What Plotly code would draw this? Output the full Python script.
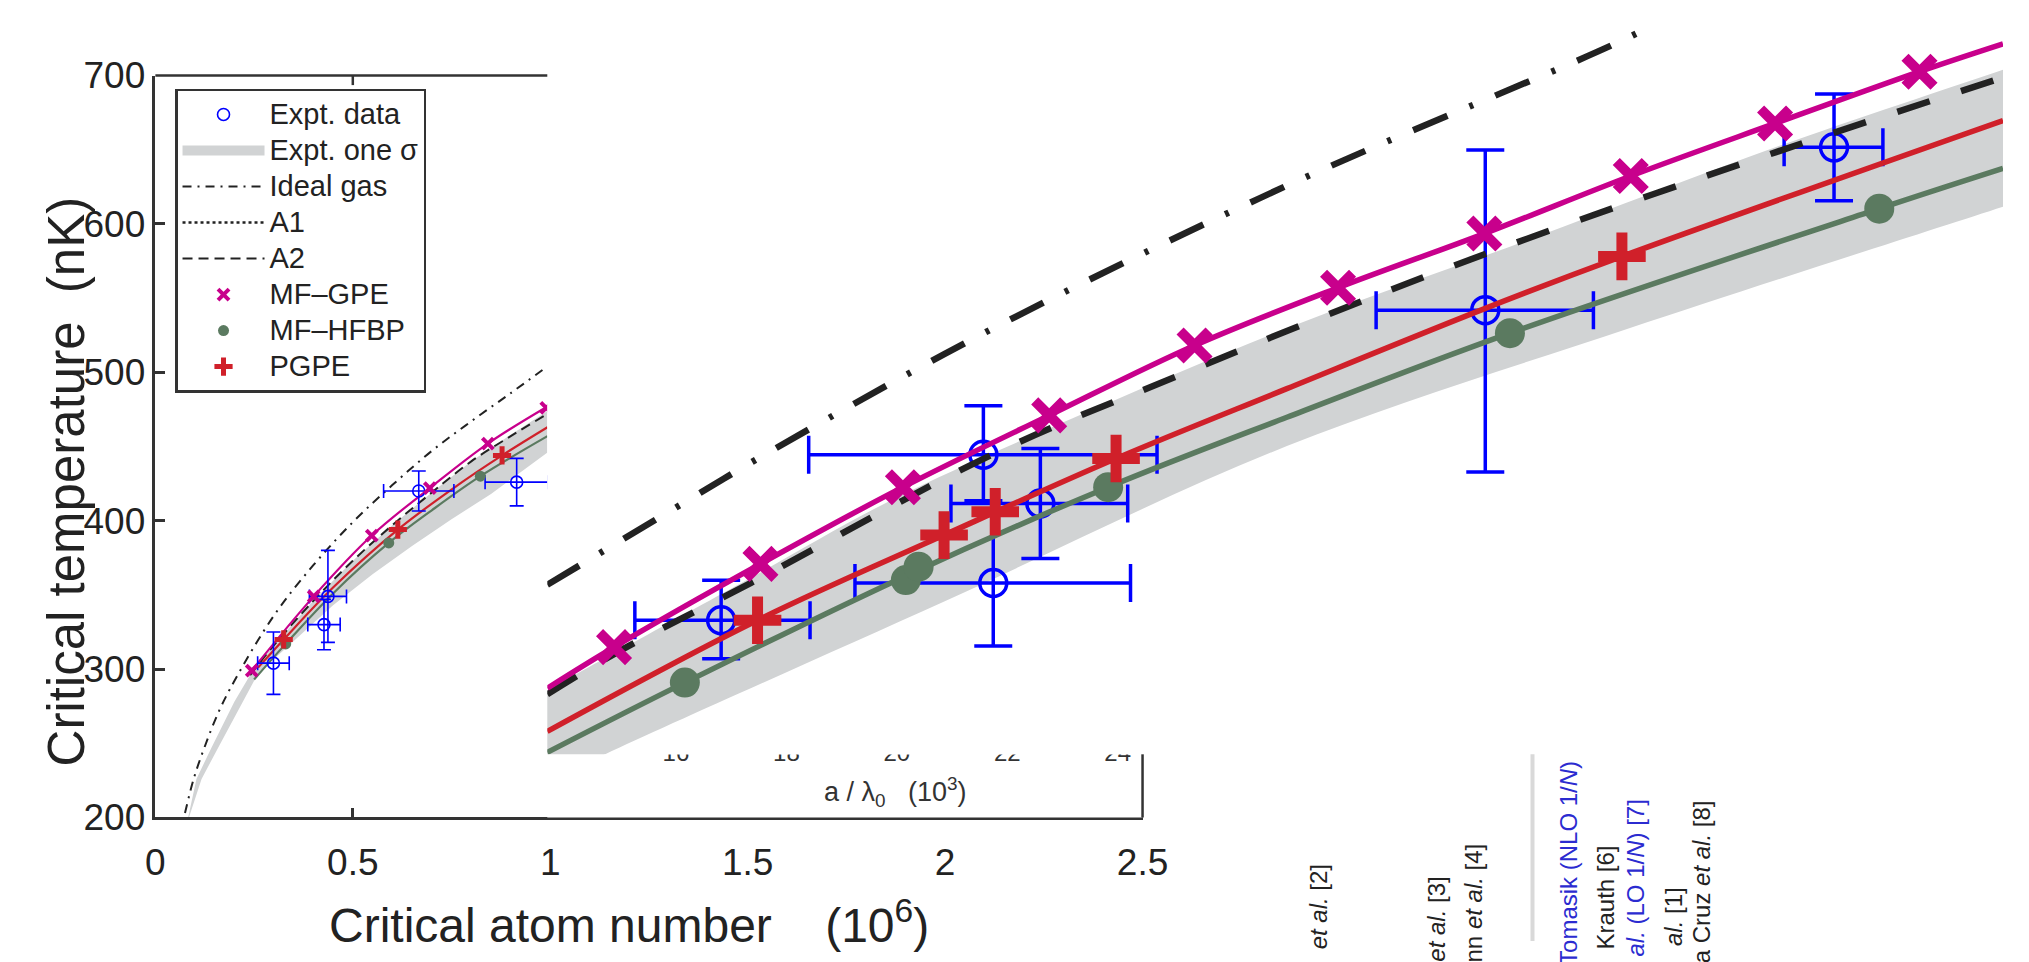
import plotly.graph_objects as go

W, H = 2029, 962

# ---------------- main chart data: N (10^6) vs T (nK) ----------------
x_tickvals = [0, 0.5, 1, 1.5, 2, 2.5]
x_ticktext = ["0", "0.5", "1", "1.5", "2", "2.5"]
y_tickvals = [200, 300, 400, 500, 600, 700]
y_ticktext = ["200", "300", "400", "500", "600", "700"]

band_up_N = [0.083, 0.104, 0.142, 0.20, 0.24, 0.30, 0.40, 0.50, 0.60, 0.70, 0.80, 0.90, 0.993]
band_up_T = [200, 226, 247, 278, 296, 316, 346, 373, 397, 419, 440, 458, 474]
band_lo_N = [0.085, 0.117, 0.159, 0.26, 0.35, 0.45, 0.55, 0.65, 0.75, 0.85, 0.993]
band_lo_T = [200, 226, 247, 297, 319, 343, 364, 383, 401, 418, 446]

ideal_N = [0.075, 0.097, 0.124, 0.16, 0.20, 0.30, 0.40, 0.50, 0.60, 0.70, 0.80, 0.90, 0.993]
ideal_T = [203, 226, 247, 271, 292, 336, 370, 399, 424, 447, 467, 486, 504]

a2_N = [0.24, 0.30, 0.40, 0.50, 0.60, 0.70, 0.80, 0.90, 0.993]
a2_T = [296, 316, 346, 373, 397, 419, 440, 457, 472]

gpe_line_N = [0.244, 0.401, 0.548, 0.695, 0.842, 0.993]
gpe_line_T = [299, 349, 390, 422, 452, 477]
gpe_N = [0.244, 0.401, 0.548, 0.695, 0.842, 0.99]
gpe_T = [299, 349, 390, 422, 452, 476]

pgpe_line_N = [0.26, 0.325, 0.45, 0.614, 0.75, 0.878, 0.993]
pgpe_line_T = [301, 320, 355, 394, 421, 444, 463]
pgpe_N = [0.325, 0.614, 0.878]
pgpe_T = [320, 394, 444]

hfbp_line_N = [0.25, 0.33, 0.45, 0.591, 0.70, 0.823, 0.993]
hfbp_line_T = [293, 317, 351, 385, 407, 430, 457]
hfbp_N = [0.33, 0.591, 0.823]
hfbp_T = [317, 385, 430]

expt_N = [0.299, 0.427, 0.437, 0.667, 0.915]
expt_T = [304, 330, 349, 420, 426]
expt_Nerr = [0.040, 0.041, 0.047, 0.089, 0.080]
expt_Terr = [21, 17, 31, 13.5, 16]

# ---------------- zoomed panel data: a/lambda0 (10^3) vs T (nK) ----------------
in_band_up_a = [12.5, 13.0, 14.918, 16.335, 18.224, 20.113, 22.475, 24.837, 27.0, 27.6]
in_band_up_T = [266.5, 285.8, 360.0, 414.8, 474.2, 529.7, 590.3, 652.3, 703.9, 718.2]
in_band_lo_a = [12.5, 13.0, 13.557, 16.807, 20.113, 23.420, 27.0, 27.6]
in_band_lo_T = [205.8, 223.2, 242.6, 345.2, 450.3, 530.0, 611.6, 625.3]

in_ideal_a = [13.0, 14.332, 15.154, 17.270, 20.113, 23.363, 23.892]
in_ideal_T = [356.8, 412.9, 447.1, 529.0, 625.8, 724.5, 743.9]

in_a2_a = [13.0, 13.680, 14.955, 17.298, 19.169, 20.453, 22.182, 24.818, 27.0]
in_a2_T = [283.0, 311.6, 358.0, 445.2, 500.6, 537.4, 583.9, 648.4, 698.7]

in_gpe_a = [13.642, 15.050, 16.420, 17.827, 19.225, 20.605, 22.012, 23.420, 24.808, 26.197]
in_gpe_T = [314.8, 370.9, 422.6, 471.0, 518.1, 557.0, 593.5, 632.3, 667.7, 702.6]
in_gpe_line_a = [13.0] + in_gpe_a + [27.0]
in_gpe_line_T = [287.1] + in_gpe_T + [721.3]

in_pgpe_a = [15.022, 16.816, 17.308, 18.470, 23.335]
in_pgpe_T = [332.9, 390.3, 406.0, 441.9, 578.1]
in_pgpe_line_a = [13.0, 15.022, 16.816, 18.470, 20.113, 22.003, 23.335, 27.0]
in_pgpe_line_T = [258.0, 332.9, 390.3, 441.9, 489.0, 542.6, 578.1, 669.7]

in_hfbp_a = [14.323, 16.448, 16.571, 18.394, 22.258, 25.810]
in_hfbp_T = [290.9, 360.0, 369.0, 422.6, 526.4, 610.3]
in_hfbp_line_a = [13.0, 14.323, 16.5, 18.394, 20.113, 22.258, 25.810, 27.0]
in_hfbp_line_T = [243.9, 290.9, 364.5, 422.6, 469.7, 526.4, 610.3, 637.4]

in_ex_a = [14.672, 17.194, 17.742, 17.289, 22.021, 25.375]
in_ex_T = [332.9, 444.5, 411.6, 358.0, 541.9, 651.6]
in_ex_Tp = [27, 33, 37, 47, 108, 36]
in_ex_Tm = [26, 31, 37, 42.5, 109, 36]
in_ex_ap = [0.855, 1.67, 0.84, 1.32, 1.04, 0.47]
in_ex_am = [0.83, 1.68, 0.86, 1.33, 1.05, 0.48]

small_ticks = [16, 18, 20, 22, 24]
small_tick_text = ["16", "18", "20", "22", "24"]

# ---------------- styles ----------------
MAG = "#C8008C"
RED = "#D0202A"
GRN = "#5B7A60"
GRAY = "#D1D3D4"
BLUE = "#0000FF"
BLK = "#222222"
AX = "#333333"
FONT = "Liberation Sans, Arial, sans-serif"


def fx(p):
    return p / W


def fy(p):
    return 1 - p / H


def lg(t):
    return '<span style="font-size:29px">' + t + '</span>'


main_xdom = [fx(148), fx(1153)]
main_ydom = [fy(833), fy(58)]
in_xdom = [fx(547), 1.0]
in_ydom = [fy(767), fy(8)]
strip_ydom = [fy(833), fy(767)]
in_xr = [13.0, 27.0]
in_yr = [242.58, 732.26]

fig = go.Figure()

# ---- main chart ----
fig.add_trace(go.Scatter(x=band_up_N + band_lo_N[::-1], y=band_up_T + band_lo_T[::-1],
                         fill="toself", fillcolor=GRAY, line=dict(width=0), mode="lines",
                         showlegend=False, hoverinfo="skip"))
fig.add_trace(go.Scatter(x=[None], y=[None], mode="lines", line=dict(color=GRAY, width=30),
                         name=lg("Expt. one \u03c3"), legendrank=2))
fig.add_trace(go.Scatter(x=ideal_N, y=ideal_T, mode="lines", line=dict(color=BLK, width=2, dash="9px,6px,2px,6px"),
                         line_shape="spline", name=lg("Ideal gas"), legendrank=3))
fig.add_trace(go.Scatter(x=[None], y=[None], mode="lines", line=dict(color=BLK, width=2.5, dash="dot"),
                         name=lg("A1"), legendrank=4))
fig.add_trace(go.Scatter(x=a2_N, y=a2_T, mode="lines", line=dict(color=BLK, width=2, dash="10px,6px"),
                         line_shape="spline", name=lg("A2"), legendrank=5))
fig.add_trace(go.Scatter(x=hfbp_line_N, y=hfbp_line_T, mode="lines", line=dict(color=GRN, width=2.2),
                         line_shape="spline", showlegend=False))
fig.add_trace(go.Scatter(x=pgpe_line_N, y=pgpe_line_T, mode="lines", line=dict(color=RED, width=2.2),
                         line_shape="spline", showlegend=False))
fig.add_trace(go.Scatter(x=gpe_line_N, y=gpe_line_T, mode="lines", line=dict(color=MAG, width=2.2),
                         line_shape="spline", showlegend=False))
fig.add_trace(go.Scatter(x=expt_N, y=expt_T, mode="markers",
                         marker=dict(symbol="circle-open", size=12, color=BLUE, line=dict(width=1.6, color=BLUE)),
                         error_x=dict(type="data", array=expt_Nerr, color=BLUE, thickness=1.6, width=7),
                         error_y=dict(type="data", array=expt_Terr, color=BLUE, thickness=1.6, width=7),
                         name=lg("Expt. data"), legendrank=1))
fig.add_trace(go.Scatter(x=gpe_N, y=gpe_T, mode="markers",
                         marker=dict(symbol="x-thin", size=11, color=MAG, line=dict(width=4, color=MAG)),
                         name=lg("MF\u2013GPE"), legendrank=6))
fig.add_trace(go.Scatter(x=hfbp_N, y=hfbp_T, mode="markers",
                         marker=dict(symbol="circle", size=11, color=GRN, line=dict(width=0)),
                         name=lg("MF\u2013HFBP"), legendrank=7))
fig.add_trace(go.Scatter(x=pgpe_N, y=pgpe_T, mode="markers",
                         marker=dict(symbol="cross-thin", size=13, color=RED, line=dict(width=5, color=RED)),
                         name=lg("PGPE"), legendrank=8))

# ---- small-axis tick labels strip (upper part hidden under the zoomed panel) ----
fig.add_trace(go.Scatter(x=small_ticks, y=[0.985] * len(small_ticks), mode="text", text=small_tick_text,
                         textfont=dict(family=FONT, size=24, color=AX), cliponaxis=True,
                         xaxis="x2", yaxis="y2", showlegend=False, hoverinfo="skip"))

# ---- zoomed panel ----
PX, PY = "x3", "y3"
fig.add_trace(go.Scatter(x=[in_xr[0], in_xr[1], in_xr[1], in_xr[0]], y=[in_yr[0], in_yr[0], in_yr[1], in_yr[1]],
                         fill="toself", fillcolor="white", line=dict(width=0), mode="lines",
                         xaxis=PX, yaxis=PY, showlegend=False, hoverinfo="skip"))
fig.add_trace(go.Scatter(x=in_band_up_a + in_band_lo_a[::-1], y=in_band_up_T + in_band_lo_T[::-1],
                         fill="toself", fillcolor=GRAY, line=dict(width=0), mode="lines", line_shape="spline",
                         xaxis=PX, yaxis=PY, showlegend=False))
fig.add_trace(go.Scatter(x=in_ex_a, y=in_ex_T, mode="markers",
                         marker=dict(symbol="circle-open", size=27, color=BLUE, line=dict(width=3.5, color=BLUE)),
                         error_x=dict(type="data", symmetric=False, array=in_ex_ap, arrayminus=in_ex_am,
                                      color=BLUE, thickness=3.5, width=19),
                         error_y=dict(type="data", symmetric=False, array=in_ex_Tp, arrayminus=in_ex_Tm,
                                      color=BLUE, thickness=3.5, width=19),
                         xaxis=PX, yaxis=PY, showlegend=False))
fig.add_trace(go.Scatter(x=in_ideal_a, y=in_ideal_T, mode="lines", line_shape="spline",
                         line=dict(color=BLK, width=6.5, dash="37px,24px,4px,24px"),
                         xaxis=PX, yaxis=PY, showlegend=False))
fig.add_trace(go.Scatter(x=in_a2_a, y=in_a2_T, mode="lines", line_shape="spline",
                         line=dict(color=BLK, width=6.5, dash="34px,33px"),
                         xaxis=PX, yaxis=PY, showlegend=False))
fig.add_trace(go.Scatter(x=in_hfbp_line_a, y=in_hfbp_line_T, mode="lines", line_shape="spline",
                         line=dict(color=GRN, width=5.5), xaxis=PX, yaxis=PY, showlegend=False))
fig.add_trace(go.Scatter(x=in_pgpe_line_a, y=in_pgpe_line_T, mode="lines", line_shape="spline",
                         line=dict(color=RED, width=5.5), xaxis=PX, yaxis=PY, showlegend=False))
fig.add_trace(go.Scatter(x=in_gpe_line_a, y=in_gpe_line_T, mode="lines", line_shape="spline",
                         line=dict(color=MAG, width=5.5), xaxis=PX, yaxis=PY, showlegend=False))
fig.add_trace(go.Scatter(x=in_hfbp_a, y=in_hfbp_T, mode="markers",
                         marker=dict(symbol="circle", size=30, color=GRN, line=dict(width=0)),
                         xaxis=PX, yaxis=PY, showlegend=False))
fig.add_trace(go.Scatter(x=in_gpe_a, y=in_gpe_T, mode="markers",
                         marker=dict(symbol="x-thin", size=29, color=MAG, line=dict(width=10, color=MAG)),
                         xaxis=PX, yaxis=PY, showlegend=False))
fig.add_trace(go.Scatter(x=in_pgpe_a, y=in_pgpe_T, mode="markers",
                         marker=dict(symbol="cross-thin", size=34, color=RED, line=dict(width=11, color=RED)),
                         xaxis=PX, yaxis=PY, showlegend=False))

tickfont = dict(family=FONT, size=37, color=BLK)

annotations = [
    dict(text="Critical atom number\u00a0\u00a0\u00a0\u00a0(10<sup>6</sup>)", x=fx(630), y=fy(942),
         xref="paper", yref="paper", showarrow=False, xanchor="center", yanchor="middle",
         font=dict(family=FONT, size=48, color=BLK)),
    dict(text="Critical temperature\u00a0\u00a0(nK)", x=fx(57), y=fy(482), xref="paper", yref="paper",
         showarrow=False, textangle=-90, xanchor="center", yanchor="middle",
         font=dict(family=FONT, size=51, color=BLK)),
    dict(text="a\u00a0/\u00a0\u03bb<sub>0</sub>\u00a0\u00a0\u00a0(10<sup>3</sup>)", x=fx(901), y=fy(806),
         xref="paper", yref="paper", showarrow=False, xanchor="center", yanchor="middle",
         font=dict(family=FONT, size=27, color=AX)),
]

# rotated text fragments at lower right: (x pixel, top pixel, text, colour)
stray = [
    (1333, 880, "<i>et al.</i> [2]", BLK),
    (1452, 893, "<i>et al.</i> [3]", BLK),
    (1490, 858, "nn <i>et al.</i> [4]", BLK),
    (1586, 772, "Tomasik (NLO 1/<i>N</i>)", "#2B2BD0"),
    (1624, 860, "Krauth [6]", BLK),
    (1655, 812, "<i>al.</i> (LO 1/<i>N</i>) [7]", "#2B2BD0"),
    (1693, 903, "<i>al.</i> [1]", BLK),
    (1722, 813, "a Cruz <i>et al.</i> [8]", BLK),
]
for px, top, txt, col in stray:
    annotations.append(dict(text=txt, x=fx(px), y=fy(top), xref="paper", yref="paper", showarrow=False,
                            textangle=-90, xanchor="center", yanchor="top",
                            font=dict(family=FONT, size=24, color=col)))

shapes = [
    dict(type="line", xref="paper", yref="paper", x0=main_xdom[0], x1=in_xdom[0], y0=main_ydom[1], y1=main_ydom[1],
         line=dict(color=AX, width=2.5)),
    dict(type="line", xref="x", yref="paper", x0=0.5, x1=0.5, y0=main_ydom[1], y1=main_ydom[1] - 10 / H,
         line=dict(color=AX, width=2.5)),
    dict(type="line", xref="paper", yref="paper", x0=main_xdom[1], x1=main_xdom[1], y0=main_ydom[0], y1=in_ydom[0],
         line=dict(color=AX, width=2.5)),
    dict(type="line", xref="paper", yref="paper", x0=fx(1550), x1=fx(1550), y0=0, y1=fy(767),
         line=dict(color="#D9D9D9", width=4)),
]

fig.update_layout(
    width=W, height=H, autosize=False,
    margin=dict(l=0, r=0, t=0, b=0),
    paper_bgcolor="white", plot_bgcolor="white",
    font=dict(family=FONT, color=BLK),
    xaxis=dict(domain=main_xdom, range=[0, 2.5], tickvals=x_tickvals, ticktext=x_ticktext,
               showline=True, linecolor=AX, linewidth=2.5, ticks="inside", ticklen=10, tickwidth=2.5,
               tickcolor=AX, showgrid=False, zeroline=False, tickfont=tickfont, anchor="y",
               ticklabelstandoff=10, fixedrange=True),
    yaxis=dict(domain=main_ydom, range=[200, 700], tickvals=y_tickvals, ticktext=y_ticktext,
               showline=True, linecolor=AX, linewidth=2.5, ticks="inside", ticklen=10, tickwidth=2.5,
               tickcolor=AX, showgrid=False, zeroline=False, tickfont=tickfont, anchor="x", fixedrange=True),
    xaxis2=dict(domain=[in_xdom[0], main_xdom[1]], range=[13.67, 24.45], visible=False, anchor="y2"),
    yaxis2=dict(domain=strip_ydom, range=[0, 1], visible=False, anchor="x2"),
    xaxis3=dict(domain=in_xdom, range=in_xr, visible=False, anchor="y3"),
    yaxis3=dict(domain=in_ydom, range=in_yr, visible=False, anchor="x3"),
    legend=dict(x=fx(168), y=fy(72), xanchor="left", yanchor="top", bgcolor="white",
                bordercolor=AX, borderwidth=2.5, font=dict(family=FONT, size=25.4, color=BLK),
                itemwidth=82, traceorder="normal", tracegroupgap=0),
    annotations=annotations,
    shapes=shapes,
    showlegend=True,
)

fig.write_html("out.html")
